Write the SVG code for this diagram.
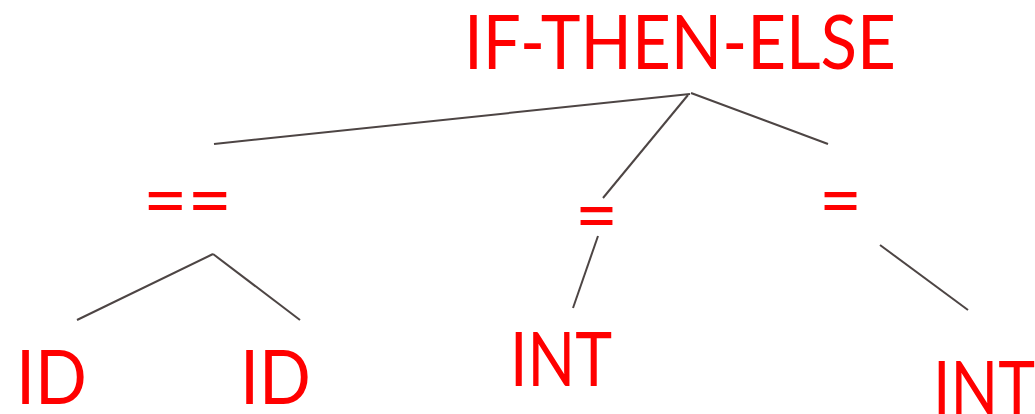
<svg xmlns="http://www.w3.org/2000/svg" width="1035" height="414" viewBox="0 0 1035 414">
<style>
.t{font-family:Lato,"Liberation Sans",sans-serif;font-size:76px;fill:#ff0000;}
.c line{stroke:#4d4544;stroke-width:2;}
</style>
<rect width="1035" height="414" fill="#ffffff"/>
<g class="c" id="connectors">
<line x1="214" y1="144" x2="690" y2="94"/>
<line x1="603" y1="198" x2="688" y2="95"/>
<line x1="691" y1="93" x2="828" y2="144"/>
<line x1="598" y1="236" x2="573" y2="308"/>
<line x1="213" y1="254" x2="77" y2="320"/>
<line x1="213" y1="254" x2="300" y2="320"/>
<line x1="880" y1="245" x2="968" y2="310"/>
</g>
<g id="n-ite"><text class="t" x="464" y="69" textLength="432" lengthAdjust="spacingAndGlyphs">IF-THEN-ELSE</text></g>
<g id="n-eqeq"><text class="t" x="143" y="227" textLength="89" lengthAdjust="spacingAndGlyphs">==</text></g>
<g id="n-eq1"><text class="t" x="575" y="242" textLength="43" lengthAdjust="spacingAndGlyphs">=</text></g>
<g id="n-eq2"><text class="t" x="819" y="227" textLength="43" lengthAdjust="spacingAndGlyphs">=</text></g>
<g id="n-id1"><text class="t" x="16" y="404" textLength="71" lengthAdjust="spacingAndGlyphs">ID</text></g>
<g id="n-id2"><text class="t" x="240" y="404" textLength="71" lengthAdjust="spacingAndGlyphs">ID</text></g>
<g id="n-int1"><text class="t" x="510" y="386" textLength="102" lengthAdjust="spacingAndGlyphs">INT</text></g>
<g id="n-int2"><text class="t" x="933" y="415" textLength="102" lengthAdjust="spacingAndGlyphs">INT</text></g>
</svg>
